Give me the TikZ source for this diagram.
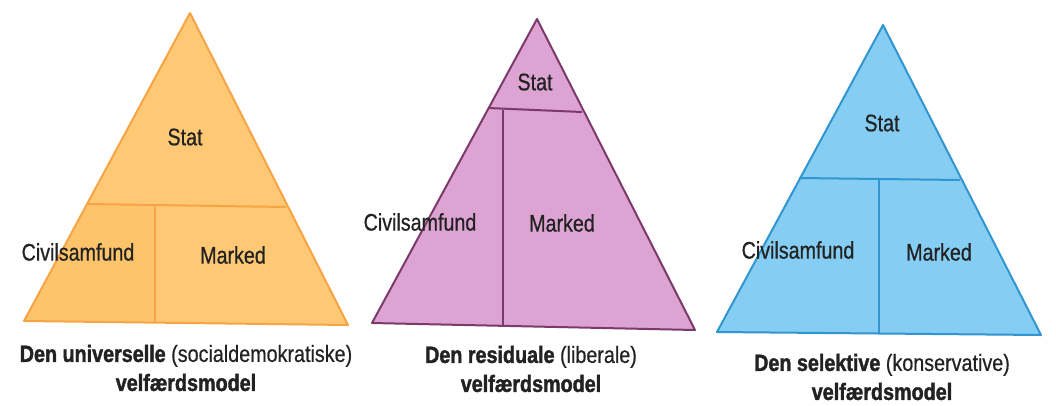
\documentclass[tikz,border=0pt]{standalone}
\usepackage{fontspec}
\setmainfont[FakeStretch=0.82]{Liberation Sans}
\newfontfamily\lblfont[FakeStretch=0.82,FakeBold=0.6]{Liberation Sans}
\newfontfamily\capregfont[FakeStretch=0.84,FakeBold=0.5]{Liberation Sans}
\newfontfamily\capboldfont[FakeStretch=0.84,FakeBold=1.6]{Liberation Sans Bold}
\newcommand{\capb}[1]{{\capboldfont #1}}
\definecolor{orfill}{HTML}{FEC874}
\definecolor{orfillb}{HTML}{FDC46C}
\definecolor{ordraw}{HTML}{F6A445}
\definecolor{pufill}{HTML}{DDA4D3}
\definecolor{pudraw}{HTML}{7B3A6B}
\definecolor{blfill}{HTML}{85CDF3}
\definecolor{bldraw}{HTML}{3195CF}
\definecolor{txt}{HTML}{222222}
\tikzset{
  lbl/.style={font=\lblfont\fontsize{24}{24}\selectfont, text=txt, inner sep=0pt},
  captxt/.style={font=\capregfont\fontsize{23.5}{29}\selectfont, text=txt, align=center, inner sep=0pt},
  rim/.style={line width=2pt, line join=round}
}
\begin{document}
\begin{tikzpicture}[x=1pt,y=-1pt]
\useasboundingbox[fill=white] (0,0) rectangle (1056,405);
% ---------- Triangle 1 (orange) ----------
\coordinate (oA) at (190,13);
\coordinate (oL) at (24,321);
\coordinate (oR) at (348,325);
\coordinate (oH1) at (87,204);
\coordinate (oH2) at (286,207);
\coordinate (oV1) at (155,205.5);
\coordinate (oV2) at (155,323);
\fill[orfill] (oA) -- (oL) -- (oR) -- cycle;
\fill[orfillb] (oH1) -- (oV1) -- (oV2) -- (oL) -- cycle;
\draw[rim, ordraw] (oH1) -- (oH2);
\draw[rim, ordraw] (oV1) -- (oV2);
\draw[rim, ordraw] (oA) -- (oL) -- (oR) -- cycle;
\node[lbl] (oStat) at (185,137) {Stat};
\node[lbl] (oCiv) at (78,252) {Civilsamfund};
\node[lbl] (oMar) at (233,255) {Marked};
\node[captxt] (oCap) at (186,368) {\capb{Den universelle} (socialdemokratiske)\\\capb{velfærdsmodel}};
% ---------- Triangle 2 (purple) ----------
\coordinate (pA) at (537,19);
\coordinate (pL) at (372,323);
\coordinate (pR) at (695,330);
\coordinate (pH1) at (488,108);
\coordinate (pH2) at (582,112);
\coordinate (pV1) at (503,110);
\coordinate (pV2) at (503,327);
\fill[pufill] (pA) -- (pL) -- (pR) -- cycle;
\draw[rim, pudraw] (pH1) -- (pH2);
\draw[rim, pudraw] (pV1) -- (pV2);
\draw[rim, pudraw] (pA) -- (pL) -- (pR) -- cycle;
\node[lbl] (pStat) at (535,82) {Stat};
\node[lbl] (pCiv) at (420,222) {Civilsamfund};
\node[lbl] (pMar) at (562,223) {Marked};
\node[captxt] (pCap) at (531,369) {\capb{Den residuale} (liberale)\\\capb{velfærdsmodel}};
% ---------- Triangle 3 (blue) ----------
\coordinate (bA) at (883,25);
\coordinate (bL) at (717,332);
\coordinate (bR) at (1041,335);
\coordinate (bH1) at (799,178);
\coordinate (bH2) at (960,180);
\coordinate (bV1) at (879,179);
\coordinate (bV2) at (879,333.5);
\fill[blfill] (bA) -- (bL) -- (bR) -- cycle;
\draw[rim, bldraw] (bH1) -- (bH2);
\draw[rim, bldraw] (bV1) -- (bV2);
\draw[rim, bldraw] (bA) -- (bL) -- (bR) -- cycle;
\node[lbl] (bStat) at (882,123) {Stat};
\node[lbl] (bCiv) at (798,250) {Civilsamfund};
\node[lbl] (bMar) at (939,252) {Marked};
\node[captxt] (bCap) at (882,377) {\capb{Den selektive} (konservative)\\\capb{velfærdsmodel}};
\end{tikzpicture}
\end{document}
